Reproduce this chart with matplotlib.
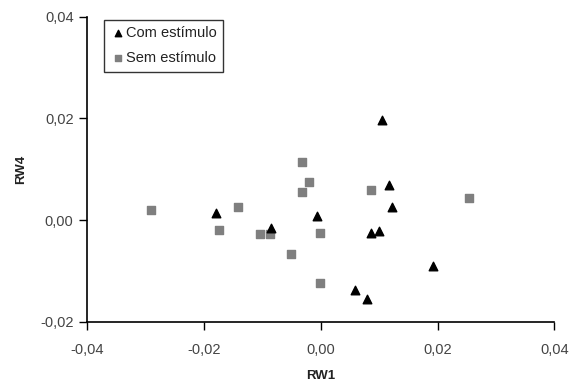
import matplotlib
matplotlib.use("Agg")
import matplotlib.pyplot as plt
from matplotlib.ticker import FuncFormatter

plt.rcParams['font.family'] = ['Liberation Sans', 'DejaVu Sans']

# Com estímulo (triangles)
com_x = [0.0105, 0.0116, 0.0122, -0.0006, 0.0085, 0.0099, 0.0192, 0.0059, 0.0079, -0.0180, -0.0086]
com_y = [0.0197, 0.0068, 0.0025, 0.0007, -0.0026, -0.0021, -0.0091, -0.0138, -0.0155, 0.0013, -0.0015]

# Sem estímulo (squares)
sem_x = [-0.0291, -0.0175, -0.0142, -0.0105, -0.0088, -0.0052, -0.0002, -0.0002, -0.0032, -0.0021, -0.0032, 0.0086, 0.0253]
sem_y = [0.0020, -0.0019, 0.0026, -0.0028, -0.0028, -0.0067, -0.0026, -0.0123, 0.0114, 0.0074, 0.0056, 0.0060, 0.0043]

xticks = [-0.04, -0.02, 0.00, 0.02, 0.04]
yticks = [-0.02, 0.00, 0.02, 0.04]

fig = plt.figure(figsize=(5.7, 3.86), dpi=100)
ax = fig.add_axes([0.1535, 0.1666, 0.819, 0.79])

ax.scatter(com_x, com_y, marker='^', s=38, color='black', label='Com estímulo', zorder=3)
ax.scatter(sem_x, sem_y, marker='s', s=28, color='#7f7f7f', label='Sem estímulo', zorder=2)

ax.set_xlim(-0.04, 0.04)
ax.set_ylim(-0.02, 0.04)
ax.set_xticks(xticks)
ax.set_yticks(yticks)
fmt = FuncFormatter(lambda v, p: f"{v:.2f}".replace('.', ','))
ax.xaxis.set_major_formatter(fmt)
ax.yaxis.set_major_formatter(fmt)
ax.tick_params(direction='out', length=6, width=1, labelsize=10.5, color='black', labelcolor='#444444')
ax.tick_params(axis='x', pad=9)
ax.tick_params(axis='y', pad=4)

for s in ['top', 'right']:
    ax.spines[s].set_visible(False)
for s in ['left', 'bottom']:
    ax.spines[s].set_linewidth(1.2)

ax.set_xlabel('RW1', fontsize=9.5, fontweight='bold', labelpad=10, color='#222222')
ax.set_ylabel('RW4', fontsize=9.5, fontweight='bold', labelpad=9, color='#222222')

leg = ax.legend(loc='upper left', bbox_to_anchor=(0.03, 1.0), fontsize=10.5, frameon=True,
                fancybox=False, edgecolor='black', handletextpad=0.1, borderpad=0.45,
                handlelength=0.9, labelspacing=0.75, markerscale=0.75, borderaxespad=0.2)
leg.get_frame().set_linewidth(1.0)
for t in leg.get_texts():
    t.set_color('#222222')

fig.savefig('out.png', dpi=100)
